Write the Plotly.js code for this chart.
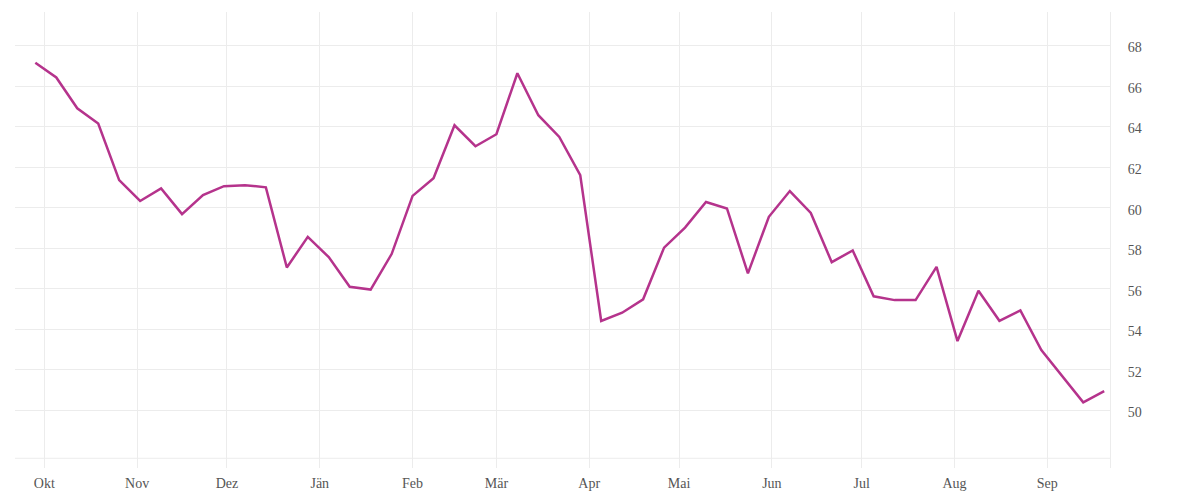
<!DOCTYPE html>
<html>
<head>
<meta charset="utf-8">
<script src="https://cdn.plot.ly/plotly-3.0.1.min.js"></script>
<style>
  body { margin: 0; background: #fff; }
  #chart { width: 1200px; height: 500px; }
</style>
</head>
<body>
<div id="chart"></div>
<script>
// weekly values
var weeks = [
  '2022-09-28','2022-10-05','2022-10-12','2022-10-19','2022-10-26',
  '2022-11-02','2022-11-09','2022-11-16','2022-11-23','2022-11-30',
  '2022-12-07','2022-12-14','2022-12-21','2022-12-28',
  '2023-01-04','2023-01-11','2023-01-18','2023-01-25',
  '2023-02-01','2023-02-08','2023-02-15','2023-02-22',
  '2023-03-01','2023-03-08','2023-03-15','2023-03-22','2023-03-29',
  '2023-04-05','2023-04-12','2023-04-19','2023-04-26',
  '2023-05-03','2023-05-10','2023-05-17','2023-05-24','2023-05-31',
  '2023-06-07','2023-06-14','2023-06-21','2023-06-28',
  '2023-07-05','2023-07-12','2023-07-19','2023-07-26',
  '2023-08-02','2023-08-09','2023-08-16','2023-08-23','2023-08-30',
  '2023-09-06','2023-09-13','2023-09-20'
]
var values = [
  67.15, 66.42, 64.90, 64.15, 61.36,
  60.33, 60.95, 59.68, 60.62, 61.06,
  61.11, 61.00, 57.05, 58.56,
  57.56, 56.10, 55.96, 57.71,
  60.58, 61.45, 64.06, 63.03,
  63.62, 66.63, 64.56, 63.49, 61.60,
  54.41, 54.82, 55.48, 58.03,
  59.02, 60.28, 59.96, 56.76, 59.55,
  60.82, 59.74, 57.31, 57.89,
  55.63, 55.44, 55.44, 57.08,
  53.42, 55.90, 54.42, 54.93, 52.98,
  51.66, 50.40, 50.95
]

// month ticks (austrian german)
var monthStarts = [
  '2022-10-01','2022-11-01','2022-12-01','2023-01-01','2023-02-01','2023-03-01',
  '2023-04-01','2023-05-01','2023-06-01','2023-07-01','2023-08-01','2023-09-01'
]
var monthLabels = ['Okt','Nov','Dez','Jän','Feb','Mär','Apr','Mai','Jun','Jul','Aug','Sep']
var yTicks = [50, 52, 54, 56, 58, 60, 62, 64, 66, 68]

var gridcolor = '#ececec'
var tickfont = {family: 'Liberation Serif, DejaVu Serif, serif', size: 14, color: '#555'}

var data = [
  {
    type: 'scatter',
    mode: 'lines',
    x: weeks,
    y: values,
    line: {color: '#b5338c', width: 2.5},
    hoverinfo: 'x+y'
  }
]

var layout = {
  width: 1200,
  height: 500,
  paper_bgcolor: '#fff',
  plot_bgcolor: '#fff',
  showlegend: false,
  margin: {l: 15, r: 90, t: 12, b: 32},
  xaxis: {
    type: 'date',
    range: ['2022-09-21 05:00', '2023-09-21 22:30'],
    tickvals: monthStarts,
    ticktext: monthLabels,
    showgrid: true,
    gridcolor: gridcolor,
    gridwidth: 1,
    zeroline: false,
    showline: false,
    ticks: '',
    ticklabelstandoff: 5,
    tickfont: tickfont
  },
  yaxis: {
    side: 'right',
    range: [47.16, 69.65],
    tickvals: yTicks,
    showgrid: true,
    gridcolor: gridcolor,
    gridwidth: 1,
    zeroline: false,
    showline: true,
    linecolor: gridcolor,
    linewidth: 1,
    ticks: '',
    ticklabelstandoff: 14,
    ticklabelshift: 2,
    tickfont: tickfont
  },
  shapes: [
    {
      // light base line a little above the plot bottom
      type: 'line',
      xref: 'paper', x0: 0, x1: 1,
      yref: 'y', y0: 47.64, y1: 47.64,
      line: {color: gridcolor, width: 1},
      layer: 'below'
    }
  ]
}

Plotly.newPlot('chart', data, layout, {displayModeBar: false, staticPlot: true})
</script>
</body>
</html>
